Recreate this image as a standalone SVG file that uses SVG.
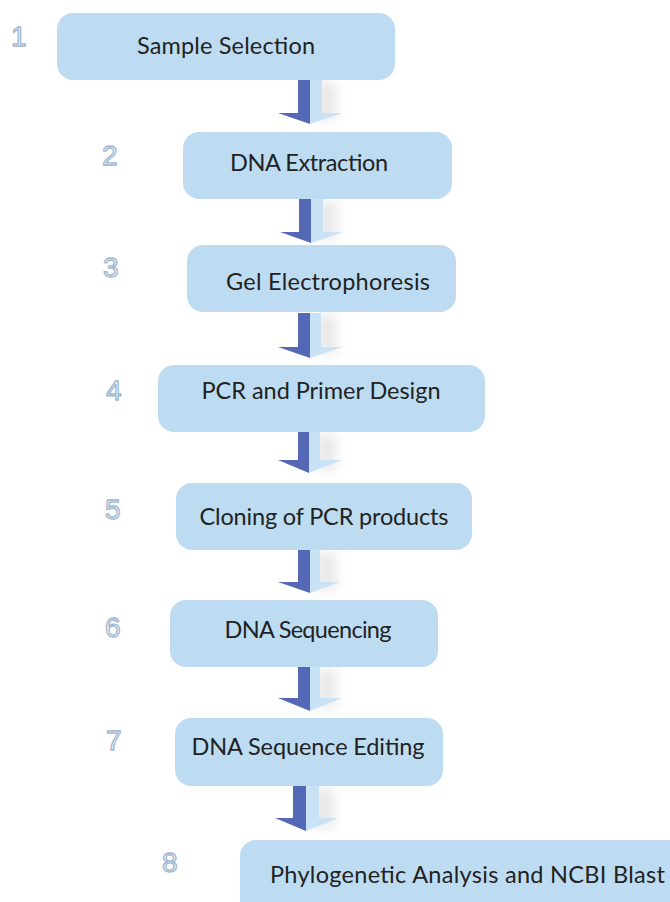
<svg xmlns="http://www.w3.org/2000/svg" width="670" height="902" viewBox="0 0 670 902">
<defs>
<filter id="sh" x="-100%" y="-30%" width="300%" height="160%"><feGaussianBlur stdDeviation="6"/></filter>
<style>
.box{fill:#bddcf2}
.lbl{font-family:Lato,"Open Sans","Liberation Sans",sans-serif;font-size:23.5px;fill:#222}
.num{font-family:"Liberation Sans",Arial,sans-serif;font-size:28px;fill:#f2f7fc;stroke:#9fb6cf;stroke-width:1.3}
.dk{fill:#5568b6}
.lt{fill:#c9e2f5}
.shd{fill:#9a9a9a;opacity:0.22}
</style>
</defs>
<rect width="670" height="902" fill="#ffffff"/>
<g id="connectors">
<g>
<rect class="shd" x="316" y="82" width="20" height="38" filter="url(#sh)"/>
<polygon class="dk" points="298,66 310,66 310,124 278,113 298,113"/>
<polygon class="lt" points="310,66 322,66 322,113 342,113 310,124"/>
</g>
<g>
<rect class="shd" x="317" y="201" width="20" height="38" filter="url(#sh)"/>
<polygon class="dk" points="299,185 311,185 311,243 280,232 299,232"/>
<polygon class="lt" points="311,185 323,185 323,232 343,232 311,243"/>
</g>
<g>
<rect class="shd" x="316" y="314" width="20" height="40" filter="url(#sh)"/>
<polygon class="dk" points="298,313 310,313 310,358 278,347 298,347"/>
<polygon class="lt" points="310,313 321,313 321,347 342,347 310,358"/>
</g>
<g>
<rect class="shd" x="316" y="434" width="20" height="36" filter="url(#sh)"/>
<polygon class="dk" points="298,415 309,415 309,473 278,460 298,460"/>
<polygon class="lt" points="309,415 320,415 320,460 342,460 309,473"/>
</g>
<g>
<rect class="shd" x="316" y="552" width="20" height="38" filter="url(#sh)"/>
<polygon class="dk" points="298,537 310,537 310,593 278,582 298,582"/>
<polygon class="lt" points="310,537 320,537 320,582 340,582 310,593"/>
</g>
<g>
<rect class="shd" x="316" y="669" width="20" height="38" filter="url(#sh)"/>
<polygon class="dk" points="298,654 310,654 310,711 278,698 298,698"/>
<polygon class="lt" points="310,654 320,654 320,698 342,698 310,711"/>
</g>
<g>
<rect class="shd" x="314" y="788" width="20" height="40" filter="url(#sh)"/>
<polygon class="dk" points="293,773 306,773 306,831 275,818 293,818"/>
<polygon class="lt" points="306,773 319,773 319,818 338,818 306,831"/>
</g>
</g>
<g id="node1">
<rect class="box" x="57" y="13" width="338" height="67" rx="16"/>
<text class="lbl" x="226" y="54" text-anchor="middle" textLength="178">Sample Selection</text>
<text class="num" x="11" y="46">1</text>
</g>
<g id="node2">
<rect class="box" x="183" y="132" width="269" height="67" rx="16"/>
<text class="lbl" x="309" y="171" text-anchor="middle" textLength="158">DNA Extraction</text>
<text class="num" x="102" y="165">2</text>
</g>
<g id="node3">
<rect class="box" x="187" y="245" width="269" height="67" rx="16"/>
<text class="lbl" x="328" y="290" text-anchor="middle" textLength="204">Gel Electrophoresis</text>
<text class="num" x="103" y="277">3</text>
</g>
<g id="node4">
<rect class="box" x="158" y="365" width="327" height="67" rx="16"/>
<text class="lbl" x="321" y="399" text-anchor="middle" textLength="239">PCR and Primer Design</text>
<text class="num" x="106" y="400">4</text>
</g>
<g id="node5">
<rect class="box" x="176" y="483" width="296" height="67" rx="16"/>
<text class="lbl" x="324" y="525" text-anchor="middle" textLength="249">Cloning of PCR products</text>
<text class="num" x="105" y="519">5</text>
</g>
<g id="node6">
<rect class="box" x="170" y="600" width="268" height="67" rx="16"/>
<text class="lbl" x="308" y="638" text-anchor="middle" textLength="167">DNA Sequencing</text>
<text class="num" x="105" y="637">6</text>
</g>
<g id="node7">
<rect class="box" x="175" y="718" width="268" height="68" rx="16"/>
<text class="lbl" x="308" y="755" text-anchor="middle" textLength="233">DNA Sequence Editing</text>
<text class="num" x="106" y="750">7</text>
</g>
<g id="node8">
<rect class="box" x="240" y="840" width="450" height="80" rx="16"/>
<text class="lbl" x="270" y="883" textLength="395">Phylogenetic Analysis and NCBI Blast</text>
<text class="num" x="162" y="872">8</text>
</g>
</svg>
